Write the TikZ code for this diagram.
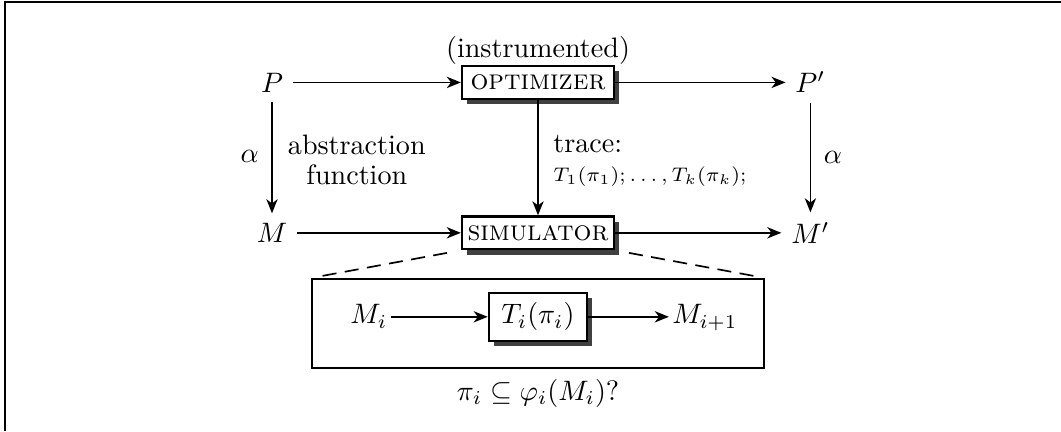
\documentclass[tikz,border=0pt]{standalone}
\usetikzlibrary{positioning,shadows,arrows.meta}
\begin{document}
\begin{tikzpicture}
  [>={Stealth[length=5pt,width=4pt,inset=1.5pt]},
   box/.style={rectangle, draw=black, thick, fill=white,
     drop shadow={shadow xshift=1.8pt, shadow yshift=-1.9pt, fill=black!75, opacity=1}},
   tool/.style={box, minimum width=1.9cm, minimum height=0.41cm, inner sep=2pt, font=\scshape},
   state/.style={inner sep=1pt, text height=7.5pt, text depth=2.5pt},
   flow/.style={->, semithick},
   zoomline/.style={semithick, dash pattern=on 5pt off 3pt, shorten <=5pt, shorten >=2.5pt}]

  \useasboundingbox (0,0) rectangle (13.2625,-5.3875);
  \draw[line width=0.8pt] (0.0625,-5.3875) -- (0.0625,-0.025) -- (13.2625,-0.025);

  % Programas y modelos
  \node (P)   at (3.40,-1.03)  {$P$};
  \node[tool] (opt) at (6.725,-1.03) {optimizer};
  \node (P2)  at (10.13,-1.03) {$P'$};
  \node (M)   at (3.40,-2.91)  {$M$};
  \node[tool] (sim) at (6.725,-2.91) {simulator};
  \node (M2)  at (10.13,-2.91) {$M'$};

  % Detalle del simulador
  \node[draw, thick, minimum width=5.65cm, minimum height=1.11cm] (detail) at (6.725,-4.044) {};
  \node[state] (Mi) at (4.61,-3.96) {$M_i$};
  \node[state, box, inner xsep=4.5pt, inner ysep=3.5pt] (Ti) at (6.725,-3.96) {$T_i(\pi_i)$};
  \node[state] (Mn) at (8.81,-3.96) {$M_{i+1}$};

  % Flechas
  \foreach \from/\to in {P/opt, opt/P2, M/sim, sim/M2, P/M, P2/M2, opt/sim, Mi/Ti, Ti/Mn}
    \draw[flow] (\from) -- (\to);

  \draw[zoomline] (sim.south west) -- (detail.north west);
  \draw[zoomline] (sim.south east) -- (detail.north east);

  % Etiquetas
  \node[above=0pt of opt, inner sep=0pt] (instr) {(instrumented)};
  \node (alphaL) at (3.12,-1.96) {$\alpha$};
  \node[align=center] (absfun) at (4.46,-2.0) {abstraction\\[-1.3pt]function};
  \node[align=left, anchor=west, inner sep=0pt] (trace) at (6.91,-2.01)
    {trace:\\[-1.5pt]\scriptsize$T_1(\pi_1);\ldots,T_k(\pi_k);$};
  \node (alphaR) at (10.41,-1.97) {$\alpha$};
  \node[below=0pt of detail] (cond) {$\pi_i \subseteq \varphi_i(M_i)$?};
\end{tikzpicture}
\end{document}
